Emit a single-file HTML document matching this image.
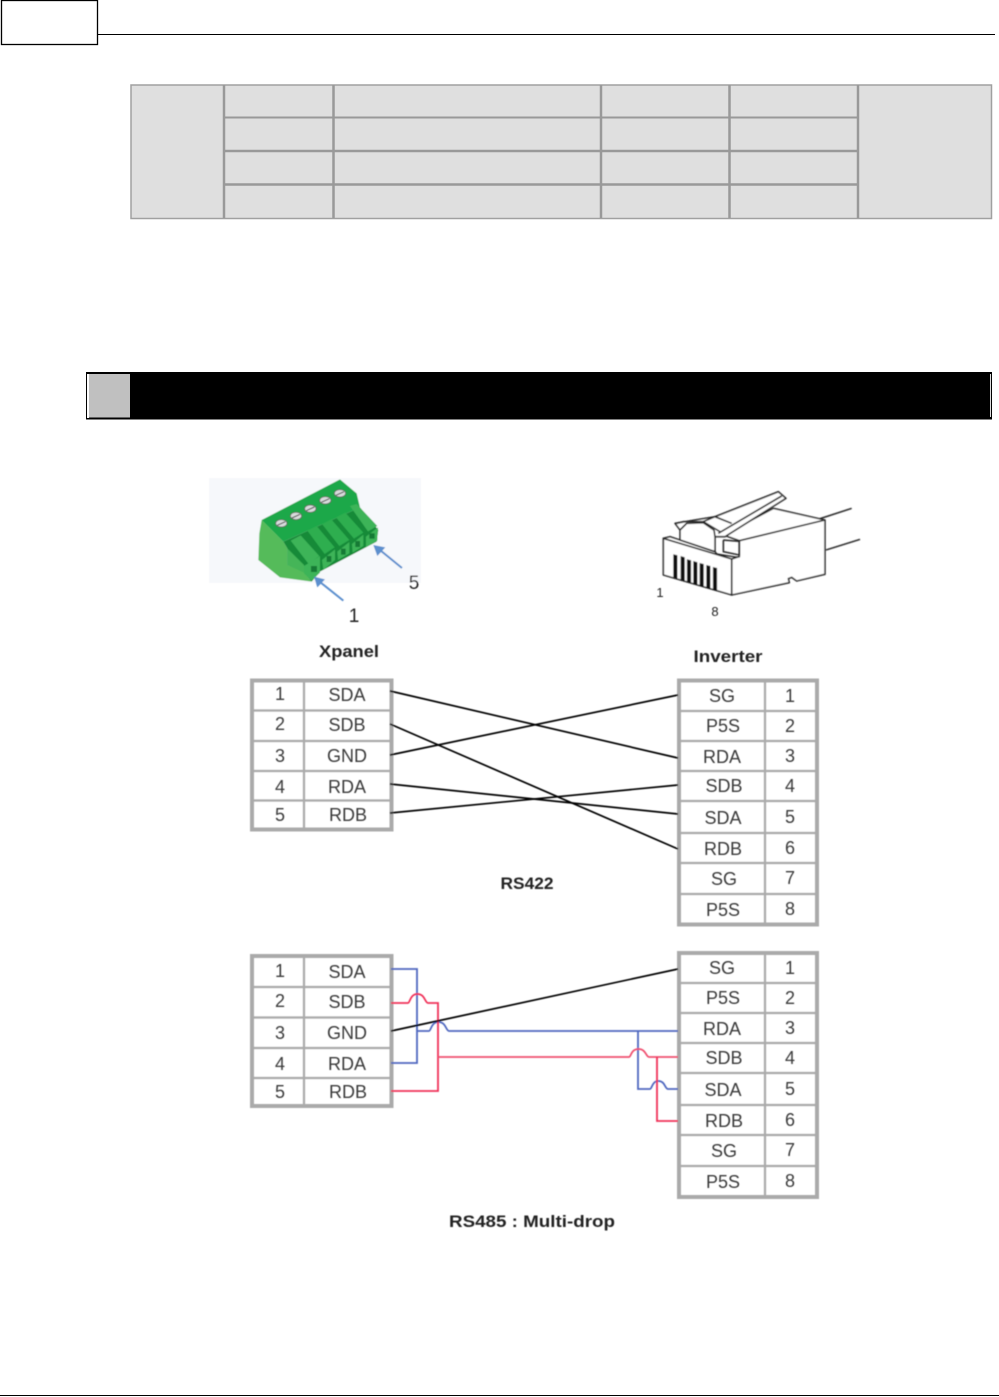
<!DOCTYPE html>
<html>
<head>
<meta charset="utf-8">
<style>
html,body{margin:0;padding:0;background:#fff}
svg{display:block}
.t text{font-family:"Liberation Sans","DejaVu Sans",sans-serif;font-size:18px;fill:#3a3a3a;text-anchor:middle}
.b{font-family:"Liberation Sans","DejaVu Sans",sans-serif;font-size:17px;font-weight:bold;fill:#222;text-anchor:middle}
</style>
</head>
<body>
<svg width="999" height="1397" viewBox="0 0 999 1397" xmlns="http://www.w3.org/2000/svg">
<defs>
<filter id="s" x="-5%" y="-5%" width="110%" height="110%"><feGaussianBlur stdDeviation="0.4"/></filter>
</defs>
<rect width="999" height="1397" fill="#fff"/>

<!-- page header -->
<rect x="1.5" y="0.5" width="96" height="44" fill="#fff" stroke="#000" stroke-width="1.3"/>
<line x1="98" y1="34.5" x2="995" y2="34.5" stroke="#000" stroke-width="1"/>
<line x1="0" y1="1395.5" x2="999" y2="1395.5" stroke="#000" stroke-width="1"/>

<!-- top table -->
<rect x="131" y="85" width="860.500" height="133.500" fill="#dfdfdf" stroke="#a0a0a0" stroke-width="1.500"/>
<g stroke="#999" stroke-width="2.500" fill="none">
<line x1="224" y1="85" x2="224" y2="218"/>
<line x1="333.500" y1="85" x2="333.500" y2="218"/>
<line x1="601" y1="85" x2="601" y2="218"/>
<line x1="729.500" y1="85" x2="729.500" y2="218"/>
<line x1="858" y1="85" x2="858" y2="218"/>
<line x1="224" y1="117.500" x2="858" y2="117.500" stroke-width="2"/>
<line x1="224" y1="151" x2="858" y2="151"/>
<line x1="224" y1="184.500" x2="858" y2="184.500"/>
</g>

<!-- black banner -->
<rect x="86" y="372" width="906" height="47.500" fill="#000"/>
<rect x="87" y="374" width="2" height="44" fill="#fff"/>
<rect x="89" y="374" width="41" height="43.500" fill="#c0c0c0"/>
<rect x="990" y="374" width="1" height="43" fill="#ddd"/>

<g filter="url(#s)">
<!-- green connector -->
<rect x="209" y="478" width="212" height="105" fill="#f6f8fb"/>
<g transform="translate(200,470) scale(0.3333)">
<!-- left side -->
<polygon points="185,150 250,215 262,235 262,285 310,305 335,335 240,322 175,270 178,190" fill="#55bb5a"/>
<!-- front wall behind fingers -->
<polygon points="250,215 480,112 535,180 530,215 360,305 335,335 310,305 262,285 262,235" fill="#128a38"/>
<!-- top face -->
<polygon points="185,150 420,28 470,70 480,112 250,215" fill="#1fa84a"/>
<!-- fingers: top surface -->
<polygon points="272,212 302,196 358,258 326,282" fill="#3cb459"/>
<polygon points="322,182 350,168 404,232 374,252" fill="#2fae50"/>
<polygon points="366,162 394,148 448,210 418,228" fill="#2fae50"/>
<polygon points="408,142 436,128 490,188 462,206" fill="#2fae50"/>
<polygon points="450,108 470,102 532,168 504,184" fill="#3cb459"/>
<!-- fingers: socket faces -->
<polygon points="312,288 360,258 360,308 335,332 312,310" fill="#3cb459"/>
<polygon points="366,270 405,238 405,270 370,300" fill="#3cb459"/>
<polygon points="412,245 448,216 448,250 414,270" fill="#3cb459"/>
<polygon points="456,222 490,194 490,228 458,248" fill="#3cb459"/>
<polygon points="498,200 534,172 532,212 498,232" fill="#3cb459"/>
<!-- lower left block -->
<polygon points="262,235 312,285 312,308 262,285" fill="#45b558"/>
<!-- holes -->
<rect x="333" y="288" width="18" height="18" fill="#127a34"/>
<rect x="380" y="258" width="14" height="18" fill="#127a34"/>
<rect x="423" y="236" width="14" height="18" fill="#127a34"/>
<rect x="466" y="213" width="14" height="18" fill="#127a34"/>
<rect x="508" y="190" width="16" height="16" fill="#127a34"/>
<g stroke="#555" stroke-width="2" fill="#d8dcdc">
<ellipse cx="244" cy="160" rx="17" ry="11"/>
<ellipse cx="288" cy="138" rx="17" ry="11"/>
<ellipse cx="331" cy="116" rx="17" ry="11"/>
<ellipse cx="376" cy="91" rx="17" ry="11"/>
<ellipse cx="420" cy="70" rx="17" ry="11"/>
</g>
<g stroke="#444" stroke-width="3">
<line x1="232" y1="166" x2="256" y2="155"/>
<line x1="276" y1="144" x2="300" y2="133"/>
<line x1="319" y1="122" x2="343" y2="111"/>
<line x1="364" y1="97" x2="388" y2="86"/>
<line x1="408" y1="76" x2="432" y2="65"/>
</g>
<g stroke="#5b8fce" stroke-width="6" fill="#5b8fce">
<line x1="350" y1="328" x2="430" y2="392"/>
<polygon points="342,320 375,328 352,352" stroke="none"/>
<line x1="530" y1="232" x2="606" y2="294"/>
<polygon points="520,225 556,232 532,258" stroke="none"/>
</g>
</g>
<text x="414" y="589" font-family="Liberation Sans,sans-serif" font-size="19" fill="#222" text-anchor="middle">5</text>
<text x="354" y="622" font-family="Liberation Sans,sans-serif" font-size="19" fill="#222" text-anchor="middle">1</text>

<!-- RJ45 -->
<g transform="translate(640,480) scale(0.3333)" stroke="#222" stroke-width="4.500" fill="#fff" stroke-linejoin="round">
<line x1="540" y1="116" x2="635" y2="85"/>
<line x1="558" y1="210" x2="660" y2="178"/>
<polygon points="400,85 555,120 555,283 470,303 455,292 445,296 448,308 275,345 275,235 298,230 298,182 250,165"/>
<line x1="298" y1="182" x2="555" y2="120"/>
<polygon points="70,175 275,235 275,345 70,285"/>
<polygon points="70,175 90,170 120,180 225,215 230,222 290,232 275,237"/>
<polygon points="105,130 225,110 415,35 438,55 255,170 225,170 225,215 120,180 120,150"/>
<polyline points="110,130 130,125 190,125 225,110" fill="none"/>
<polyline points="120,150 140,130 190,128 222,150 225,170" fill="none"/>
<polyline points="225,110 275,130" fill="none"/>
<polyline points="190,125 240,155" fill="none"/>
<polyline points="235,160 425,48" fill="none"/>
<polyline points="250,180 298,184 298,225 250,215 250,180" fill="none"/>
<g stroke="none" fill="#111">
<polygon points="100,223 112,226 112,296 100,292"/>
<polygon points="122,228 134,232 134,303 122,299"/>
<polygon points="141,238 153,241 153,309 141,305"/>
<polygon points="160,243 172,247 172,315 160,311"/>
<polygon points="179,249 191,252 191,321 179,317"/>
<polygon points="199,255 211,258 211,327 199,323"/>
<polygon points="219,261 231,264 231,333 219,329"/>
</g>
</g>
<text x="660" y="597" font-family="Liberation Sans,sans-serif" font-size="13" fill="#222" text-anchor="middle">1</text>
<text x="715" y="616" font-family="Liberation Sans,sans-serif" font-size="13" fill="#222" text-anchor="middle">8</text>

<text class="b" x="349" y="657" textLength="60" lengthAdjust="spacingAndGlyphs">Xpanel</text>
<text class="b" x="728" y="662" textLength="69" lengthAdjust="spacingAndGlyphs">Inverter</text>
<text class="b" x="527" y="889" textLength="53" lengthAdjust="spacingAndGlyphs">RS422</text>
<text class="b" x="532" y="1227" textLength="166" lengthAdjust="spacingAndGlyphs">RS485 : Multi-drop</text>

<!-- RS422 left table -->
<g fill="none" stroke="#aaa">
<rect x="252" y="680.500" width="139.500" height="149" stroke-width="4"/>
<g stroke-width="2.200">
<line x1="304" y1="681" x2="304" y2="829"/>
<line x1="252" y1="710.500" x2="391" y2="710.500"/>
<line x1="252" y1="741" x2="391" y2="741"/>
<line x1="252" y1="771" x2="391" y2="771"/>
<line x1="252" y1="800.500" x2="391" y2="800.500"/>
</g>
</g>
<g class="t">
<text x="280" y="700">1</text><text x="347" y="701">SDA</text>
<text x="280" y="730">2</text><text x="347" y="731">SDB</text>
<text x="280" y="762">3</text><text x="347" y="762">GND</text>
<text x="280" y="793">4</text><text x="347" y="793">RDA</text>
<text x="280" y="821">5</text><text x="348" y="821">RDB</text>
</g>

<!-- RS422 right table -->
<g fill="none" stroke="#aaa">
<rect x="679" y="680.500" width="138" height="244" stroke-width="4"/>
<g stroke-width="2.200">
<line x1="765" y1="681" x2="765" y2="924"/>
<line x1="679" y1="711" x2="817" y2="711"/>
<line x1="679" y1="741" x2="817" y2="741"/>
<line x1="679" y1="771" x2="817" y2="771"/>
<line x1="679" y1="801" x2="817" y2="801"/>
<line x1="679" y1="833" x2="817" y2="833"/>
<line x1="679" y1="863" x2="817" y2="863"/>
<line x1="679" y1="894" x2="817" y2="894"/>
</g>
</g>
<g class="t">
<text x="722" y="702">SG</text><text x="790" y="702">1</text>
<text x="723" y="732">P5S</text><text x="790" y="732">2</text>
<text x="722" y="763">RDA</text><text x="790" y="762">3</text>
<text x="724" y="792">SDB</text><text x="790" y="792">4</text>
<text x="723" y="824">SDA</text><text x="790" y="823">5</text>
<text x="723" y="855">RDB</text><text x="790" y="854">6</text>
<text x="724" y="885">SG</text><text x="790" y="884">7</text>
<text x="723" y="916">P5S</text><text x="790" y="915">8</text>
</g>

<!-- RS422 wires -->
<g stroke="#000" stroke-width="1.700" fill="none">
<line x1="390" y1="691" x2="678" y2="758"/>
<line x1="390" y1="724" x2="678" y2="849"/>
<line x1="390" y1="755" x2="678" y2="695"/>
<line x1="390" y1="784" x2="678" y2="814"/>
<line x1="390" y1="813" x2="678" y2="785"/>
</g>

<!-- RS485 left table -->
<g fill="none" stroke="#aaa">
<rect x="252" y="956" width="139.500" height="150" stroke-width="4"/>
<g stroke-width="2.200">
<line x1="304" y1="957" x2="304" y2="1105"/>
<line x1="252" y1="987" x2="391" y2="987"/>
<line x1="252" y1="1017.500" x2="391" y2="1017.500"/>
<line x1="252" y1="1048" x2="391" y2="1048"/>
<line x1="252" y1="1078" x2="391" y2="1078"/>
</g>
</g>
<g class="t">
<text x="280" y="977">1</text><text x="347" y="978">SDA</text>
<text x="280" y="1007">2</text><text x="347" y="1008">SDB</text>
<text x="280" y="1039">3</text><text x="347" y="1039">GND</text>
<text x="280" y="1070">4</text><text x="347" y="1070">RDA</text>
<text x="280" y="1098">5</text><text x="348" y="1098">RDB</text>
</g>

<!-- RS485 right table -->
<g fill="none" stroke="#aaa">
<rect x="679" y="953" width="138" height="244" stroke-width="4"/>
<g stroke-width="2.200">
<line x1="765" y1="953" x2="765" y2="1196"/>
<line x1="679" y1="983" x2="817" y2="983"/>
<line x1="679" y1="1013" x2="817" y2="1013"/>
<line x1="679" y1="1043" x2="817" y2="1043"/>
<line x1="679" y1="1073" x2="817" y2="1073"/>
<line x1="679" y1="1105" x2="817" y2="1105"/>
<line x1="679" y1="1135" x2="817" y2="1135"/>
<line x1="679" y1="1166" x2="817" y2="1166"/>
</g>
</g>
<g class="t">
<text x="722" y="974">SG</text><text x="790" y="974">1</text>
<text x="723" y="1004">P5S</text><text x="790" y="1004">2</text>
<text x="722" y="1035">RDA</text><text x="790" y="1034">3</text>
<text x="724" y="1064">SDB</text><text x="790" y="1064">4</text>
<text x="723" y="1096">SDA</text><text x="790" y="1095">5</text>
<text x="724" y="1127">RDB</text><text x="790" y="1126">6</text>
<text x="724" y="1157">SG</text><text x="790" y="1156">7</text>
<text x="723" y="1188">P5S</text><text x="790" y="1187">8</text>
</g>

<!-- RS485 wires -->
<g fill="none" stroke-width="1.800">
<path d="M391 969H417V1063H391" stroke="#5068c0"/>
<path d="M417 1031H429C431 1031 431 1022 438.500 1022C446 1022 446 1031 449 1031H678" stroke="#5068c0"/>
<path d="M638 1031V1089H650C652 1089 652 1081 658.500 1081C665 1081 665 1089 668 1089H678" stroke="#5068c0"/>
<path d="M391 1003H408C410 1003 410 994 417.500 994C425 994 425 1003 428 1003H438V1091H391" stroke="#f03058"/>
<path d="M438 1057H629C631 1057 631 1049 638.500 1049C646 1049 646 1057 649 1057H678" stroke="#f05070"/>
<path d="M657 1057V1121H678" stroke="#f03058"/>
<line x1="391" y1="1031" x2="678" y2="969" stroke="#000" stroke-width="1.700"/>
</g>
</g>
</svg>
</body>
</html>
